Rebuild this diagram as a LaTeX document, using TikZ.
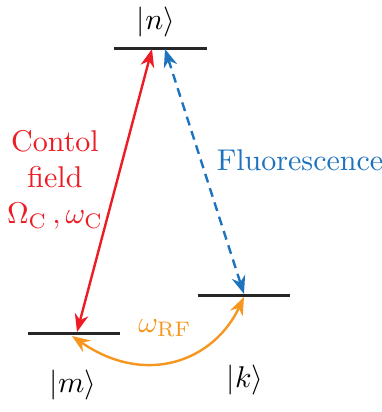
\documentclass[tikz,border=0pt]{standalone}
\usetikzlibrary{arrows.meta}
\definecolor{ctrlred}{RGB}{237,28,36}
\definecolor{flblue}{RGB}{30,115,190}
\definecolor{rforange}{RGB}{246,150,30}
\tikzset{
    level/.style={line width=1pt, black!85},
    trans/.style={line width=0.8pt, {Stealth[length=6pt,width=4.6pt]}-{Stealth[length=6pt,width=4.6pt]}}
}
\begin{document}
\begin{tikzpicture}[x=0.3333pt, y=0.3333pt]
    \useasboundingbox (0,0) rectangle (382,412);
    % energy levels
    \coordinate (nL) at (114,364); \coordinate (nR) at (207,364);
    \coordinate (mL) at (28,79);   \coordinate (mR) at (120,79);
    \coordinate (kL) at (198,117); \coordinate (kR) at (290,117);
    \draw[level] (nL) -- (nR);
    \draw[level] (mL) -- (mR);
    \draw[level] (kL) -- (kR);
    \node (nlab) at (156,390) {$|n\rangle$};
    \node (mlab) at (73,27) {$|m\rangle$};
    \node (klab) at (245,32) {$|k\rangle$};
    % arrow ends
    \coordinate (ctop) at (152,363); \coordinate (cbot) at (77,80);
    \coordinate (ftop) at (165,363); \coordinate (fbot) at (244,118);
    \coordinate (rfm) at (72,76);    \coordinate (rfk) at (244,115);
    \draw[trans, ctrlred] (ctop) -- (cbot);
    \draw[trans, flblue, dash pattern=on 3pt off 2pt] (ftop) -- (fbot);
    \draw[trans, rforange] (rfm) .. controls (146,25) and (214,51) .. (rfk);
    % labels
    \node[ctrlred, align=center] (ctext) at (55,232) {Contol\\field\\$\Omega_\mathrm{C}\,,\omega_\mathrm{C}$};
    \node[flblue] (ftext) at (300,252) {Fluorescence};
    \node[rforange] (rftext) at (165,84) {$\omega_\mathrm{RF}$};
\end{tikzpicture}
\end{document}
